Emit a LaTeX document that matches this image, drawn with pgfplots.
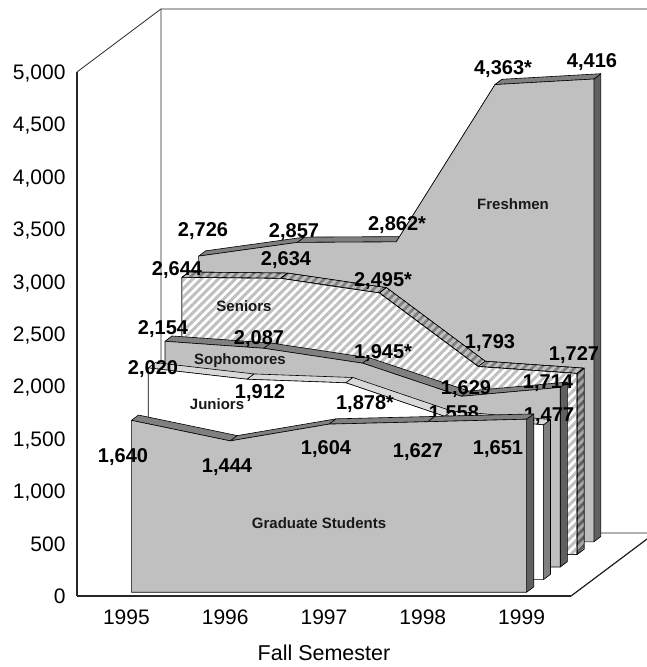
\documentclass[border=0pt]{standalone}
\usepackage{fontspec}
\setmainfont{Liberation Sans}
\usepackage{pgfplots}
\pgfplotsset{compat=1.18}
\usetikzlibrary{patterns.meta}
% one series: front depth, back depth, five values, style prefix
\newcommand\series[8]{%
  \addplot3[#8 side] coordinates {(4,#1,0)(4,#2,0)(4,#2,#7)(4,#1,#7)(4,#1,0)};
  \addplot3[#8 top] coordinates {(0,#1,#3)(1,#1,#4)(1,#2,#4)(0,#2,#3)(0,#1,#3)};
  \addplot3[#8 top] coordinates {(1,#1,#4)(2,#1,#5)(2,#2,#5)(1,#2,#4)(1,#1,#4)};
  \addplot3[#8 top] coordinates {(2,#1,#5)(3,#1,#6)(3,#2,#6)(2,#2,#5)(2,#1,#5)};
  \addplot3[#8 top] coordinates {(3,#1,#6)(4,#1,#7)(4,#2,#7)(3,#2,#6)(3,#1,#6)};
  \addplot3[#8 front] coordinates {(0,#1,0)(0,#1,#3)(1,#1,#4)(2,#1,#5)(3,#1,#6)(4,#1,#7)(4,#1,0)(0,#1,0)};
}
% labels placed by picture position
\newcommand\lab[3]{\node[anchor=base,inner sep=0pt,font=\fontsize{20}{22}\selectfont\bfseries] at (axis cs:{(#1-126.4)/98.8},0,{(596-#2-7)/0.1048}) {#3};}
\newcommand\nam[3]{\node[anchor=base,inner sep=0pt,font=\fontsize{15}{18}\selectfont\bfseries,text=black!90] at (axis cs:{(#1-126.4)/98.8},0,{(596-#2-5.5)/0.1048}) {#3};}
\definecolor{face}{HTML}{C0C0C0}
\definecolor{topc}{HTML}{808080}
\definecolor{sidec}{HTML}{606060}
\pgfplotsset{
  facebase/.style={draw=black,line width=0.6pt,line join=round},
  plain front/.style={facebase,fill=face},
  plain top/.style={facebase,fill=topc},
  plain side/.style={facebase,fill=sidec},
  white front/.style={facebase,fill=white},
  white top/.style={facebase,fill=black!15},
  white side/.style={facebase,fill=topc},
  hatch front/.style={facebase,preaction={fill=white},pattern={Lines[angle=45,distance=6pt,line width=3pt]},pattern color=face},
  hatch top/.style={facebase,preaction={fill=topc},pattern={Lines[angle=45,distance=6pt,line width=3pt]},pattern color=face},
  hatch side/.style={facebase,preaction={fill=sidec},pattern={Lines[angle=45,distance=6pt,line width=3pt]},pattern color=black!35},
  frame/.style={draw=black!85,line width=0.8pt},
}
\begin{document}
\begin{tikzpicture}
\path[use as bounding box] (0pt,0pt) rectangle (647pt,667pt);
\begin{axis}[
  at={(126.4pt,71pt)},anchor=origin,
  x={(98.8pt,0pt)},y={(16.8pt,12.6pt)},z={(0pt,0.1048pt)},
  xmin=-0.5,xmax=4.5,ymin=0,ymax=5,zmin=0,zmax=5000,
  axis lines=left,
  axis line style={-,draw=black!85,line width=1.1pt},
  clip=false,
  major tick length=0pt,
  xtick={0,1,2,3,4},
  xticklabels={1995,1996,1997,1998,1999},
  ytick=\empty,
  ztick={0,500,...,5000},
  scaled z ticks=false,
  /pgf/number format/assume math mode=true,
  /pgf/number format/1000 sep={,},
  tick label style={font=\fontsize{21}{24}\selectfont},
  xticklabel style={anchor=north,yshift=-10pt},
  zticklabel style={anchor=base east,xshift=-8pt,yshift=-7.5pt},
  xlabel={Fall Semester},
  xlabel style={font=\fontsize{21.5}{24}\selectfont,anchor=north,xshift=18pt,yshift=-9pt},
]
% walls and floor
\addplot3[frame] coordinates {(-0.5,0,5000)(-0.5,5,5000)(4.5,5,5000)};
\addplot3[frame] coordinates {(-0.5,5,5000)(-0.5,5,0)(4.5,5,0)(4.5,0,0)};
% Freshmen
\series{4.3}{4.72}{2726}{2857}{2862}{4363}{4416}{plain}
\lab{203}{230}{2,726}\lab{294}{231}{2,857}\lab{397}{224}{2,862*}\lab{503}{68}{4,363*}\lab{592}{61}{4,416}
\nam{513}{204}{Freshmen}
% Seniors
\series{3.3}{3.72}{2644}{2634}{2495}{1793}{1727}{hatch}
\lab{177}{269}{2,644}\lab{286}{259}{2,634}\lab{383}{280}{2,495*}\lab{490}{342}{1,793}\lab{574}{354}{1,727}
\nam{244}{306}{Seniors}
% Sophomores
\series{2.3}{2.72}{2154}{2087}{1945}{1629}{1714}{plain}
\lab{163}{328}{2,154}\lab{259}{338}{2,087}\lab{383}{352}{1,945*}\lab{466}{388}{1,629}\lab{548}{382}{1,714}
\nam{240}{359}{Sophomores}
% Juniors
\series{1.3}{1.72}{2020}{1912}{1878}{1558}{1477}{white}
\lab{153}{368}{2,020}\lab{260}{392}{1,912}\lab{365}{403}{1,878*}\lab{454}{413}{1,558}\lab{549}{415}{1,477}
\nam{217}{404}{Juniors}
% Graduate Students
\series{0.3}{0.72}{1640}{1444}{1604}{1627}{1651}{plain}
\lab{123}{456}{1,640}\lab{227}{466}{1,444}\lab{326}{448}{1,604}\lab{418}{450}{1,627}\lab{498}{448}{1,651}
\nam{319}{523}{Graduate Students}
\end{axis}
\end{tikzpicture}
\end{document}
